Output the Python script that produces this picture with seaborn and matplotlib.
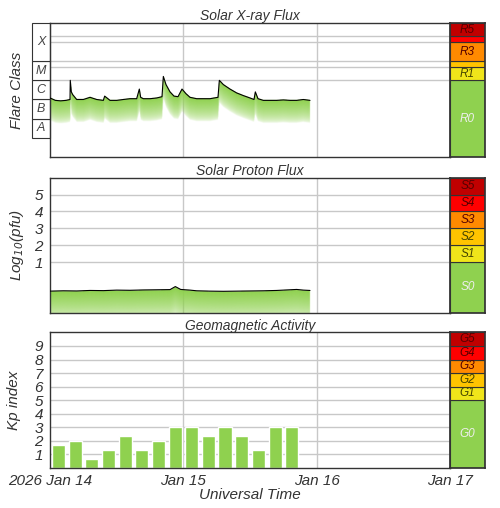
import numpy as np
import pandas as pd
import matplotlib
matplotlib.use("Agg")
import matplotlib.pyplot as plt
import matplotlib.transforms as mtransforms
from matplotlib.patches import Rectangle
import seaborn as sns

sns.set_theme(style="white")
plt.rcParams['font.family'] = ['Liberation Sans', 'DejaVu Sans']
plt.rcParams['font.style'] = 'italic'

# ---- data (time in days since 2026 Jan 14 00 UT) ----
xray_t = [0, 0.04, 0.08, 0.12, 0.15, 0.152, 0.16, 0.17, 0.2, 0.25, 0.3, 0.35, 0.4, 0.41,
          0.45, 0.5, 0.55, 0.6, 0.65, 0.67, 0.68, 0.7, 0.75, 0.8, 0.84, 0.85, 0.87, 0.9,
          0.93, 0.96, 0.99, 1.02, 1.05, 1.1, 1.15, 1.2, 1.26, 1.27, 1.3, 1.35, 1.4, 1.45,
          1.5, 1.53, 1.54, 1.56, 1.6, 1.7, 1.75, 1.8, 1.85, 1.9, 1.95]
xray_flux = [1.2e-6, 9e-7, 8.5e-7, 9e-7, 1e-6, 1e-5, 2.5e-6, 1.8e-6, 1e-6, 1e-6, 1.3e-6,
             1e-6, 9e-7, 1.5e-6, 9e-7, 9e-7, 1e-6, 1.1e-6, 1.1e-6, 3.5e-6, 1.3e-6, 1.1e-6,
             1.1e-6, 1.2e-6, 1.4e-6, 1.6e-5, 6e-6, 2.5e-6, 1.5e-6, 1.4e-6, 3.5e-6, 2e-6,
             1.3e-6, 1.1e-6, 1.1e-6, 1.1e-6, 1.3e-6, 1e-5, 6e-6, 3.5e-6, 2.2e-6, 1.6e-6,
             1.2e-6, 1e-6, 2.5e-6, 1.1e-6, 9e-7, 9e-7, 9.5e-7, 9e-7, 9e-7, 1e-6, 9e-7]

proton_t = [0, 0.1, 0.2, 0.3, 0.4, 0.5, 0.6, 0.7, 0.8, 0.9, 0.94, 0.98, 1.05, 1.1, 1.2,
            1.3, 1.4, 1.5, 1.6, 1.7, 1.8, 1.85, 1.9, 1.95]
proton_log = [-0.72, -0.70, -0.71, -0.68, -0.69, -0.66, -0.67, -0.65, -0.64, -0.63, -0.45,
              -0.62, -0.66, -0.70, -0.72, -0.73, -0.72, -0.71, -0.70, -0.68, -0.64, -0.62,
              -0.66, -0.68]

kp_t = [0.0625 + 0.125 * i for i in range(15)]
kp_vals = [1.67, 2.0, 0.67, 1.33, 2.33, 1.33, 2.0, 3.0, 3.0, 2.33, 3.0, 2.33, 1.33, 3.0, 3.0]

day_ticks = [0, 1, 2, 3]
day_labels = ["2026 Jan 14", "Jan 15", "Jan 16", "Jan 17"]

flare_classes = ["A", "B", "C", "M", "X"]
flare_bounds = [1e-8, 1e-7, 1e-6, 1e-5, 1e-4, 1e-2]

r_names = ["R0", "R1", "", "R3", "", "R5"]
r_bounds = [1e-9, 1e-5, 5e-5, 1e-4, 1e-3, 2e-3, 1e-2]
s_names = ["S0", "S1", "S2", "S3", "S4", "S5"]
s_bounds = [-2, 1, 2, 3, 4, 5, 6]
g_names = ["G0", "G1", "G2", "G3", "G4", "G5"]
g_bounds = [0, 5, 6, 7, 8, 9, 10]
scale_colors = ["#8fd14f", "#f0e51a", "#ffc400", "#ff8a00", "#ff0000", "#c00000"]

GREEN = "#8fd14f"
GRID = "#c8c8c8"
TXT = "#333333"

fig = plt.figure(figsize=(5.0, 5.08), dpi=100)
rows = [(0.691, 0.264), (0.3844, 0.2657), (0.0787, 0.267)]
axes, sides = [], []
for b, h in rows:
    axes.append(fig.add_axes([0.1, b, 0.8, h]))
    sides.append(fig.add_axes([0.9, b, 0.07, h]))


def gradient_fill(ax, t, frac, depth, floor=0.0):
    xs = np.linspace(0, 3, 900)
    ys = np.linspace(0, 1, 400)
    line = np.interp(xs, t, frac, left=np.nan, right=np.nan)
    X, Y = np.meshgrid(line, ys)
    a = np.clip(1 - (X - Y) / depth, 0, 1) ** 0.5
    a = np.clip(a, floor, 1)
    a[(Y > X) | np.isnan(X)] = 0
    rgba = np.zeros(a.shape + (4,))
    rgba[..., :3] = matplotlib.colors.to_rgb(GREEN)
    rgba[..., 3] = a
    ax.imshow(rgba, extent=[0, 1, 0, 1], origin="lower", aspect="auto",
              transform=ax.transAxes, zorder=1, interpolation="bilinear")


def style_main(ax, ylim, grid_vals, log=False):
    if log:
        ax.set_yscale("log")
    ax.set_xlim(0, 3)
    ax.set_ylim(*ylim)
    for v in grid_vals:
        ax.axhline(v, color=GRID, lw=1, zorder=0.5)
    for d in [1, 2]:
        ax.axvline(d, color=GRID, lw=1, zorder=0.5)
    ax.set_xticks(day_ticks)
    ax.set_xticklabels([])
    ax.tick_params(axis="both", length=0)
    ax.minorticks_off()
    for s in ax.spines.values():
        s.set_color("#333333")
        s.set_linewidth(1)


def style_side(side, bounds, names, log=False):
    if log:
        side.set_yscale("log")
    side.set_xlim(0, 1)
    side.set_ylim(bounds[0], bounds[-1])
    for i in range(6):
        side.add_patch(Rectangle((0, bounds[i]), 1, bounds[i + 1] - bounds[i],
                                 facecolor=scale_colors[i], edgecolor="#333333", lw=0.8))
        if names[i]:
            if log:
                yc = 10 ** ((np.log10(bounds[i]) + np.log10(bounds[i + 1])) / 2)
            else:
                yc = (bounds[i] + bounds[i + 1]) / 2
            side.text(0.5, yc, names[i], ha="center", va="center", fontsize=8.5,
                      color="#eeeeee" if i == 0 else "#444400" if i < 3 else "#550000")
    side.set_xticks([])
    side.set_yticks([])
    side.minorticks_off()
    for s in side.spines.values():
        s.set_color("#333333")


# ---- X-ray ----
ax = axes[0]
style_main(ax, (1e-9, 1e-2), [1e-5, 5e-5, 1e-4, 1e-3, 2e-3], log=True)
gradient_fill(ax, xray_t, (np.log10(xray_flux) + 9) / 7, depth=0.17)
sns.lineplot(x=xray_t, y=xray_flux, ax=ax, color="black", lw=0.8, zorder=3)
ax.set_yticks([])
trans = mtransforms.blended_transform_factory(ax.transAxes, ax.transData)
for i, c in enumerate(flare_classes):
    lo, hi = flare_bounds[i], flare_bounds[i + 1]
    ax.add_patch(Rectangle((-0.045, lo), 0.045, hi - lo, transform=trans, clip_on=False,
                           facecolor="white", edgecolor="#333333", lw=0.8))
    ax.text(-0.0225, 10 ** ((np.log10(lo) + np.log10(hi)) / 2), c, transform=trans,
            ha="center", va="center", fontsize=9, color="#444444")
ax.set_ylabel("Flare Class", fontsize=11, color=TXT, labelpad=19)
ax.set_title("Solar X-ray Flux", fontsize=10, color=TXT, pad=2)
style_side(sides[0], r_bounds, r_names, log=True)

# ---- Protons ----
ax = axes[1]
style_main(ax, (-2, 6), [1, 2, 3, 4, 5])
gradient_fill(ax, proton_t, (np.array(proton_log) + 2) / 8, depth=0.22, floor=0.15)
sns.lineplot(x=proton_t, y=proton_log, ax=ax, color="black", lw=0.8, zorder=3)
ax.set_yticks([1, 2, 3, 4, 5])
ax.tick_params(axis="y", labelsize=11, labelcolor=TXT, pad=5)
ax.set_ylabel("Log$_{10}$(pfu)", fontsize=11, color=TXT, labelpad=6)
ax.set_title("Solar Proton Flux", fontsize=10, color=TXT, pad=2)
style_side(sides[1], s_bounds, s_names)

# ---- Kp ----
ax = axes[2]
style_main(ax, (0, 10), range(1, 10))
kp = pd.DataFrame({"t": kp_t, "kp": kp_vals})
sns.barplot(data=kp, x="t", y="kp", ax=ax, native_scale=True, color=GREEN,
            saturation=1, width=0.78, zorder=2)
ax.set_xlim(0, 3)
ax.set_yticks(range(1, 10))
ax.tick_params(axis="y", labelsize=11, labelcolor=TXT, pad=5)
ax.set_ylabel("Kp index", fontsize=11, color=TXT, labelpad=10)
ax.set_title("Geomagnetic Activity", fontsize=10, color=TXT, pad=2)
ax.set_xticks(day_ticks)
ax.set_xticklabels(day_labels, fontsize=11, color=TXT)
ax.tick_params(axis="x", pad=4)
ax.set_xlabel("Universal Time", fontsize=11, color=TXT, labelpad=0)
style_side(sides[2], g_bounds, g_names)

fig.savefig("out.png", dpi=100, facecolor="white")
